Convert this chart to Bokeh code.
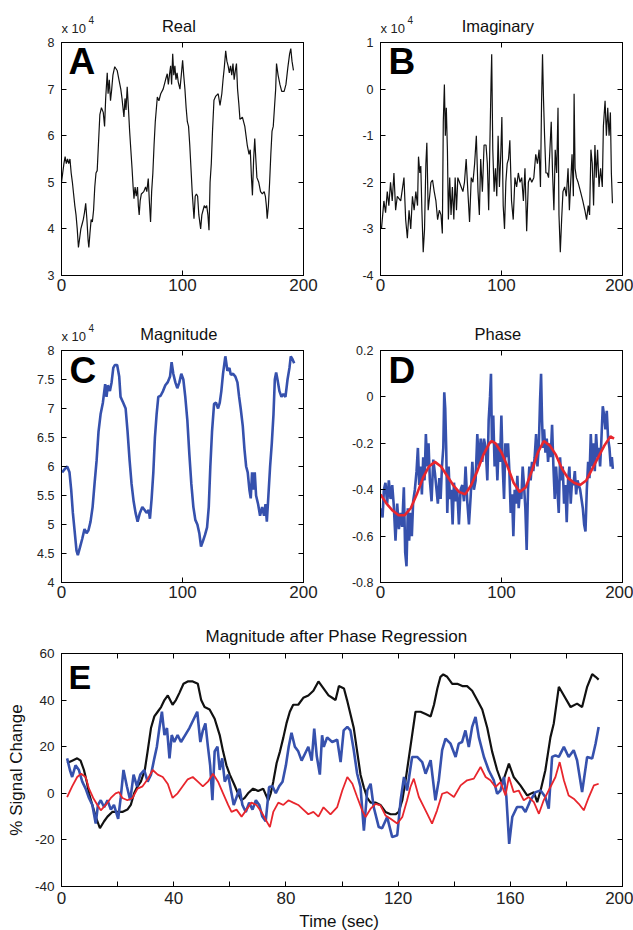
from bokeh.plotting import figure
from bokeh.models import Range1d, FixedTicker, LinearAxis, Label, PrintfTickFormatter
from bokeh.layouts import column, row
from bokeh.embed import file_html
from bokeh.resources import INLINE

FONT = "Liberation Sans"
TICK_COLOR = "#222222"
BLUE = "#3651ad"
RED = "#e8262d"
BLACK = "#111111"

# ---------------- data ----------------
# Panel A: Real part (x 10^4)
real_t = [0, 1, 2, 3, 4, 5, 6, 7, 8, 9, 10, 11, 12, 13, 14, 15, 16, 17, 18, 19, 20, 21, 22, 22.6, 23.5, 24.5,
          25.5, 26.5, 27.5, 28.5, 29.5, 30.5, 31.7, 33, 34.5, 35.6, 36.5, 37.8, 38.5, 39.5, 40.5, 41.5, 42.5,
          44, 46, 47.5, 49, 50, 51.6, 52.5, 53.3, 54.3, 55.3, 56.3, 57.3, 58.3, 59.2, 59.9, 60.8, 61.8, 62.8,
          63.5, 64.2, 65, 66, 68, 69.5, 70.5, 71.7, 72.6, 73.6, 74.5, 75.5, 76.5, 77.5, 79.2, 80.5, 82, 84,
          86, 87.4, 88.3, 89.2, 90.2, 91, 91.9, 92.8, 93.7, 94.6, 95.5, 96.5, 97.9, 99, 100.1, 101, 102, 103,
          104, 105, 106, 107, 108, 109.5, 110.5, 111.5, 112.5, 113.5, 115, 116, 117, 118, 119, 120, 121,
          121.9, 122.8, 123.8, 124.8, 126, 127.5, 129.5, 131, 132.5, 133.5, 134.5, 135.7, 136.7, 137.7,
          138.7, 139.7, 140.7, 141.7, 142.7, 143.7, 144.6, 145.5, 146.5, 147.5, 149.5, 151.5, 152.5, 153.5,
          155, 156, 157, 157.8, 158.8, 159.7, 160.6, 161.5, 163, 164.5, 166, 167.5, 168.5, 169.3, 170, 171,
          172, 173, 174, 175, 176, 177, 177.7, 179, 180.5, 182, 184, 185.5, 187, 188.5, 189.5, 190.5, 191.7]
real_v = [5.0, 5.2, 5.4, 5.55, 5.4, 5.5, 5.4, 5.5, 5.2, 5.0, 4.75, 4.5, 4.3, 4.0, 3.6, 3.8, 4.0, 4.1, 4.2, 4.35,
          4.55, 4.2, 3.75, 3.6, 3.9, 4.2, 4.15, 4.4, 4.9, 5.2, 5.25, 5.8, 6.45, 6.6, 6.5, 6.2, 6.8, 7.35, 6.9,
          7.2, 6.75, 7.0, 7.3, 7.48, 7.4, 7.2, 7.0, 6.8, 6.4, 6.8, 6.55, 7.05, 6.6, 6.1, 5.7, 5.3, 4.9, 4.65,
          4.9, 4.7, 4.9, 4.5, 4.3, 4.6, 4.75, 4.8, 4.9, 4.8, 5.08, 4.6, 4.15, 4.8, 5.2, 5.8, 6.3, 6.83, 6.75,
          6.9, 7.0, 7.2, 7.33, 7.1, 7.3, 7.5, 7.1, 7.76, 7.3, 7.5, 7.2, 7.35, 7.15, 7.0, 7.3, 7.62, 7.3, 7.0,
          6.6, 6.3, 6.2, 5.8, 5.3, 4.8, 4.22, 4.7, 4.75, 4.7, 4.3, 4.0, 4.3, 4.4, 4.5, 4.45, 4.5, 4.3, 3.97,
          5.0, 5.4, 6.1, 6.76, 6.85, 6.9, 6.65, 6.9, 7.2, 7.45, 7.82, 7.6, 7.5, 7.35, 7.5, 7.3, 7.55, 7.2,
          7.4, 7.55, 7.0, 6.7, 6.35, 6.4, 6.2, 6.0, 5.8, 5.6, 5.7, 5.1, 4.72, 5.5, 5.94, 5.5, 5.1, 5.0, 4.8,
          4.75, 4.8, 4.7, 4.5, 4.22, 4.5, 5.0, 5.6, 6.1, 6.2, 6.6, 7.0, 7.55, 7.3, 7.1, 6.95, 6.95, 7.1, 7.45,
          7.75, 7.87, 7.6, 7.4]

# Panel B: Imaginary part (x 10^4)
imag_t = [0.8, 2.8, 4.2, 5.6, 6.9, 8.3, 9.7, 11.1, 12.5, 13.9, 16.7, 19.4, 20.8, 22.2, 23.6, 25, 26.4, 27.8,
          29.2, 30.6, 31.4, 32.5, 33.3, 34.2, 35.3, 36.4, 37.5, 38.3, 39.4, 40.6, 41.7, 43, 44.4, 45.8, 47.2,
          48.6, 50, 51.1, 51.9, 52.8, 53.6, 54.4, 55.3, 56.1, 57.2, 58.3, 59.4, 60.6, 61.7, 62.8, 63.9, 65.3,
          66.7, 68.1, 69.4, 70.8, 72.2, 73.6, 75, 76.4, 77.8, 79.2, 80.6, 81.7, 82.8, 84.2, 85.6, 87.2, 88.3,
          89.4, 90.6, 91.4, 91.9, 92.8, 93.9, 95, 96.1, 97.2, 98.3, 99.4, 100.3, 101.4, 102.5, 103.6, 104.7,
          105.8, 106.9, 108.3, 109.7, 111.1, 112.5, 113.9, 115.3, 116.7, 118.1, 119.4, 120.8, 122.2, 123.6,
          125, 126.7, 128.3, 129.7, 131.1, 132.2, 133.1, 133.9, 134.7, 135.6, 136.7, 137.8, 138.9, 140,
          141.1, 142.2, 143.3, 144.4, 145.6, 146.7, 147.5, 148.6, 149.7, 150.8, 152.2, 153.6, 155, 156.1,
          157.2, 158.3, 159.4, 160, 160.8, 161.9, 163.3, 165.3, 167.2, 168.9, 170.3, 171.7, 172.8, 173.9,
          175, 176.1, 177.2, 178.3, 179.4, 180.6, 181.9, 183.3, 184.2, 185.6, 186.7, 187.8, 188.9, 190,
          190.8, 191.7]
imag_v = [-3.0, -2.4, -2.65, -2.2, -2.5, -2.0, -2.4, -1.8, -2.6, -2.3, -2.4, -1.9, -2.8, -3.2, -2.6, -3.0,
          -2.3, -2.6, -2.2, -2.5, -1.45, -1.8, -1.65, -2.6, -3.5, -3.0, -1.6, -1.15, -2.6, -2.3, -2.0, -1.95,
          -2.2, -2.4, -2.8, -2.6, -2.7, -3.1, -0.7, 0.1, -1.0, -0.4, -1.3, -2.8, -1.9, -2.7, -2.1, -2.8, -1.9,
          -2.6, -1.9, -2.0, -2.1, -2.2, -2.0, -1.5, -2.2, -2.85, -1.9, -2.0, -1.6, -1.0, -2.2, -2.7, -1.5, -2.2,
          -1.2, -1.2, -1.6, -2.6, -0.9, 0.2, 0.75, -1.3, -2.2, -1.7, -2.3, -1.0, -2.1, -1.4, -0.6, -2.5, -3.0,
          -2.0, -1.6, -1.5, -1.1, -2.4, -2.8, -1.9, -2.1, -1.8, -2.0, -1.9, -2.4, -1.7, -3.05, -2.0, -1.9, -2.0,
          -1.9, -1.4, -1.6, -1.3, -2.1, -0.3, 0.75, -0.2, -1.0, -1.8, -1.8, -1.9, -1.3, -0.7, -1.8, -2.6, -1.3,
          -1.8, -0.4, -2.7, -3.5, -2.8, -2.2, -2.1, -2.3, -1.7, -2.6, -2.0, -1.4, -2.3, -0.1, -1.7, -1.9, -2.0,
          -2.2, -2.4, -2.6, -2.8, -2.5, -2.7, -1.3, -1.6, -2.5, -1.2, -1.9, -1.3, -2.1, -1.7, -2.1, -0.8, -0.25,
          -1.0, -0.4, -1.0, -0.5, -1.8, -2.45]

# Panel C: Magnitude (x 10^4)
mag_t = [0.5, 2.5, 4.7, 6.6, 8, 9.4, 10.8, 12.4, 13.5, 15.2, 17.1, 19, 20.7, 22.3, 24, 25.7, 27.3, 29, 30.6,
         32.3, 34.2, 36.1, 37.2, 38.3, 40, 41.4, 42.8, 44.1, 46, 47.7, 48.8, 51, 53, 54.6, 56.3, 57.9, 59.6,
         61.2, 62.9, 64.8, 66.8, 68.7, 70.3, 72, 73.1, 74.5, 75.9, 77.2, 78.6, 80, 81.9, 83.9, 85.8, 87.7,
         89.7, 91, 92.4, 94.1, 95.7, 97.4, 99, 100.7, 102.3, 104, 105.7, 107.3, 109, 110.6, 112.3, 113.9,
         115.3, 117, 118.6, 120.3, 121.7, 123, 124.4, 126.1, 127.7, 129.4, 130.8, 132.1, 133.5, 135.4, 137.1,
         138.8, 139.9, 141.8, 143.7, 145.4, 146.8, 148.1, 149.8, 151.2, 152.6, 153.9, 155.3, 156.4, 157.5,
         158.6, 159.7, 160.8, 162.5, 164.1, 165.8, 167.4, 168.6, 169.7, 171, 172.4, 173.8, 175.2, 176.3,
         177.4, 178.5, 180.1, 181.8, 183.4, 185.1, 186.8, 188.4, 189.5, 190.9, 192.3]
mag_v = [5.9, 5.95, 6.0, 5.9, 5.6, 5.2, 4.9, 4.55, 4.47, 4.6, 4.75, 4.92, 4.85, 4.9, 5.05, 5.3, 5.7, 6.1, 6.6,
         6.9, 7.1, 7.42, 7.2, 7.4, 7.3, 7.45, 7.7, 7.75, 7.75, 7.55, 7.2, 7.1, 7.0, 6.6, 6.1, 5.7, 5.4, 5.2,
         5.05, 5.2, 5.3, 5.25, 5.2, 5.25, 5.1, 5.45, 5.9, 6.5, 6.9, 7.2, 7.22, 7.3, 7.4, 7.45, 7.55, 7.8, 7.6,
         7.45, 7.35, 7.45, 7.6, 7.5, 7.2, 6.8, 6.2, 5.7, 5.3, 5.08, 5.0, 4.85, 4.62, 4.72, 4.82, 4.95, 5.3,
         6.0, 6.6, 7.08, 7.1, 7.0, 7.1, 7.3, 7.6, 7.9, 7.65, 7.7, 7.58, 7.6, 7.55, 7.45, 7.2, 7.0, 6.7, 6.3,
         6.0, 5.9, 5.6, 5.45, 5.9, 5.6, 5.9, 5.5, 5.35, 5.15, 5.3, 5.15, 5.35, 5.05, 5.5, 6.0, 6.4, 6.9, 7.5,
         7.62, 7.5, 7.3, 7.2, 7.25, 7.2, 7.5, 7.7, 7.9, 7.85, 7.78]

# Panel D: Phase (blue) and fitted phase (red)
phase_t = [0.8, 1.7, 2.8, 4.1, 5.5, 6.9, 8.3, 9.7, 11, 12.4, 13.8, 15.2, 16.6, 17.9, 19.3, 20.4, 21.5, 22.6,
           23.7, 24.8, 25.9, 27, 28.4, 29.8, 30.9, 32, 33.1, 34.2, 35.3, 36.4, 37.5, 38.6, 39.7, 40.8, 42.2,
           43.6, 45, 46.3, 47.4, 48.6, 49.7, 50.8, 51.9, 52.7, 53.5, 54.3, 55.2, 56.3, 57.4, 58.5, 59.6, 60.7,
           62.1, 63.4, 64.8, 66.2, 67.6, 69, 70.3, 71.7, 73.1, 74.5, 75.9, 77.2, 78.6, 80, 81.4, 82.8, 84.1,
           85.5, 86.9, 88.3, 89.4, 90.5, 91.3, 92.1, 93.2, 94.3, 95.4, 96.6, 97.7, 98.8, 99.9, 101, 102.1,
           103.2, 104.3, 105.4, 106.5, 107.6, 108.7, 109.8, 110.9, 112, 113.1, 114.2, 115.3, 116.4, 117.5,
           118.6, 119.7, 120.8, 121.9, 123, 124.1, 125.2, 126.3, 127.4, 128.6, 129.7, 130.8, 131.9, 132.7,
           133.5, 134.3, 135.2, 136.3, 137.4, 138.5, 139.6, 140.7, 141.8, 142.9, 144, 145.1, 146.2, 147.3,
           148.4, 149.5, 150.6, 151.7, 152.8, 153.9, 155, 156.1, 157.2, 158.3, 159.4, 160.6, 161.7, 162.8,
           163.9, 165, 166.1, 167.2, 168.3, 169.4, 170.5, 171.6, 172.7, 173.8, 174.9, 176, 177.1, 178.2,
           179.3, 180.4, 181.5, 182.6, 183.7, 184.8, 185.9, 187, 188.1, 189.2, 190.3, 191.2, 192]
phase_v = [-0.48, -0.52, -0.40, -0.37, -0.46, -0.36, -0.44, -0.38, -0.47, -0.62, -0.46, -0.57, -0.50, -0.56,
           -0.39, -0.67, -0.73, -0.48, -0.62, -0.50, -0.60, -0.45, -0.40, -0.32, -0.22, -0.38, -0.30, -0.42,
           -0.26, -0.36, -0.16, -0.30, -0.20, -0.36, -0.45, -0.27, -0.33, -0.40, -0.46, -0.35, -0.44, -0.30,
           -0.22, 0.02, -0.05, -0.22, -0.50, -0.30, -0.44, -0.40, -0.55, -0.37, -0.45, -0.40, -0.55, -0.40,
           -0.38, -0.45, -0.30, -0.45, -0.55, -0.43, -0.28, -0.40, -0.36, -0.16, -0.30, -0.18, -0.28, -0.18,
           -0.22, -0.36, -0.10, 0.00, 0.10, -0.20, -0.08, -0.30, -0.20, -0.36, -0.20, -0.28, -0.08, -0.30,
           -0.44, -0.20, -0.26, -0.20, -0.32, -0.50, -0.42, -0.60, -0.40, -0.46, -0.34, -0.48, -0.40, -0.44,
           -0.30, -0.38, -0.48, -0.66, -0.40, -0.30, -0.36, -0.28, -0.32, -0.26, -0.16, -0.30, -0.22, -0.01,
           0.10, -0.10, -0.22, -0.14, -0.24, -0.18, -0.28, -0.20, -0.26, -0.12, -0.30, -0.44, -0.30, -0.40,
           -0.50, -0.26, -0.36, -0.30, -0.46, -0.38, -0.54, -0.36, -0.30, -0.46, -0.36, -0.38, -0.32, -0.42,
           -0.36, -0.38, -0.40, -0.44, -0.48, -0.55, -0.58, -0.40, -0.28, -0.35, -0.16, -0.30, -0.20, -0.32,
           -0.16, -0.26, -0.22, -0.30, -0.18, -0.04, -0.08, -0.14, -0.06, -0.18, -0.22, -0.30, -0.26, -0.31]
fit_t = [0, 5, 10, 15, 20, 25, 30, 35, 40, 45, 50, 55, 60, 65, 70, 75, 80, 85, 90, 92, 95, 100, 105, 110,
         115, 120, 125, 130, 135, 140, 145, 150, 155, 160, 165, 170, 175, 180, 185, 190, 193]
fit_v = [-0.42, -0.46, -0.49, -0.51, -0.51, -0.48, -0.42, -0.35, -0.30, -0.28, -0.30, -0.34, -0.38, -0.41,
         -0.42, -0.38, -0.32, -0.25, -0.20, -0.19, -0.20, -0.24, -0.30, -0.37, -0.41, -0.39, -0.32, -0.24,
         -0.19, -0.21, -0.25, -0.31, -0.35, -0.37, -0.38, -0.36, -0.31, -0.26, -0.21, -0.17, -0.18]

# Panel E: % signal change
e_black_t = [2, 3.8, 5.6, 6.8, 8, 9, 9.8, 11, 12.2, 13.7, 15.2, 16.4, 18.1, 19.9, 21.7, 23.5, 24.7, 25.9,
             27.1, 28.3, 29.7, 30.7, 31.9, 33.1, 34.3, 35.5, 36.7, 37.9, 39.6, 40.8, 42, 43.5, 45, 46.8, 48.6,
             49.8, 51, 52.8, 54.6, 56.4, 57.6, 58.8, 60, 61.5, 62.9, 64.1, 65.3, 66.5, 68.3, 70.1, 71.9, 73.7,
             74.6, 75.5, 76.7, 77.9, 79.1, 80.2, 81.4, 82.6, 84.4, 86.2, 88, 89.8, 91.6, 93.4, 95.2, 96.5,
             97.7, 98.9, 100.7, 101.8, 103, 104.2, 105.4, 106.6, 107.8, 109, 110.2, 111.9, 113.7, 115.5,
             117.3, 119.1, 120.2, 121.5, 122.6, 123.8, 125, 126.2, 128, 129.8, 131.6, 132.8, 134, 135.1,
             136.1, 137.5, 139.3, 141.1, 142.9, 144.6, 146.4, 148.2, 150, 151.8, 153.5, 155.3, 157.1, 159.5,
             161.2, 163.6, 166, 168.4, 169.6, 170.8, 172.5, 174.3, 175.5, 177.3, 179.1, 181.5, 183.8, 185.6,
             187.4, 189.2, 190.4, 191.5]
e_black_v = [13, 14, 15, 14, 10, 5, 0, -5, -10, -15, -12, -10, -8, -8, -8, -7, -5, 0, 3, 5, 10, 18, 28, 33,
             35, 37, 40, 42, 38, 40, 43, 47, 48, 48, 47, 40, 37, 36, 32, 25, 18, 12, 8, 4, 0, -3, -2, 0, 2, 1,
             2, -3, 0, 5, 13, 18, 24, 30, 35, 38, 38, 41, 42, 44, 48, 45, 42, 41, 40, 46, 45, 40, 34, 28, 18, 8,
             2.5, -2, -4, -4, -5, -8, -9, -9, -8, -3, 5, 15, 25, 35, 35, 34, 33, 38, 45, 50, 51, 50, 47, 47, 46,
             46, 44, 40, 36, 28, 18, 10, 4, 12.7, 7, 3.4, -0.9, 0.5, -3.8, 1.2, 9.9, 24, 30, 45.7, 42, 37, 38.5,
             37, 45.7, 51.1, 50, 48.8]
e_blue_t = [2, 3, 3.8, 5, 6.2, 7.4, 8.6, 9.8, 11, 12.2, 13, 14, 15.2, 16.4, 17.6, 18.7, 20.2, 21.1, 22.1,
            23.3, 24.5, 25.7, 26.9, 28.1, 29.5, 30.7, 31.9, 33.1, 34, 34.9, 35.8, 36.7, 37.6, 38.5, 39.3, 40.2,
            41.4, 42.6, 44.1, 45.6, 47.2, 48.4, 49.5, 50.4, 51.3, 52.2, 53, 53.8, 54.6, 55.6, 56.4, 57.3, 58.2,
            59.4, 60.3, 61.4, 62.3, 63.5, 64.5, 65.7, 66.9, 68.1, 69.3, 70.5, 71.6, 72.8, 74, 75.2, 76.4, 77.6,
            78.8, 80, 81, 82, 83.2, 84.4, 85.6, 86.8, 88, 89.2, 90.1, 91, 92.1, 92.9, 93.5, 94.7, 96.5, 98.3,
            99.5, 100.6, 101.9, 103, 104.2, 105.4, 106.6, 107.8, 109, 110.2, 111.3, 113.1, 114.3, 116.1,
            117.9, 119.7, 120.9, 122.1, 123.2, 125, 126.8, 128.6, 129.8, 131.6, 133.3, 134.5, 135.7, 136.9,
            138.7, 140.5, 141.6, 142.8, 144, 145.2, 146.4, 147.6, 148.8, 150.6, 152.3, 154.1, 155.3, 156.5,
            157.7, 158.6, 159.6, 160.7, 162.4, 164.2, 165.4, 167.2, 169, 170.8, 172.5, 173.7, 174.9, 176.1,
            177.3, 179.1, 180.8, 182.6, 183.8, 185.6, 187.4, 189.2, 190.4, 191.5]
e_blue_v = [15, 10, 7, 12, 10, 5, 2, -2, -5, -13, -5, -3, -6, -3, -7, -5, -11, -2, 10, 3, -3, 8, 3, 8, 10, 5, 8,
            15, 20, 28, 35, 25, 28, 15, 25, 22, 25, 22, 25, 28, 32, 35, 22, 27, 30, 20, 12, -3, 18, 20, 10, 15,
            5, 8, 2, -5, -2, 2, -5, -8, -4, -7, -3, -5, -10, -12, 2.7, 3, 0, 3, 5, 12, 20, 26, 20, 18, 14, 17,
            20, 14, 27.8, 16, 8, 24.9, 19.9, 24, 22, 23, 13.4, 27, 28.5, 27, 18.5, 8.4, 2.7, -16, 1.2, 4.1, -5.9,
            -14.5, -15, -10.2, -18.8, -18, -3, 7, 1.2, 15.6, 15.6, 13.4, 8.4, 14.2, -3, 5.6, 18.5, 23.5, 21.3,
            15.6, 21.3, 22, 27, 19.9, 28.5, 32.8, 24, 15.6, 9.9, 5.6, -0.2, 1.2, 7, -1.6, -21.7, -10.2, -5.9,
            -5.9, -8, -3, 0.5, 1.2, -1.6, -6.6, 15.6, 16.3, 15.6, 19.9, 15.6, 18.5, 14.2, 0.5, 15.6, 14.9, 21.3,
            28.5]
e_red_t = [2, 3.8, 5.6, 7, 8.6, 9.8, 11.3, 12.8, 14, 15.8, 17.6, 19.3, 20.5, 21.7, 23.5, 25.3, 27.1, 28.9,
           30.7, 32.5, 34.3, 36.1, 37.9, 39.6, 41.4, 43.2, 45, 46.8, 48.6, 50.4, 52.2, 54, 55.8, 57.6, 59.4,
           60.6, 62.4, 64.2, 66, 67.7, 69.5, 71.3, 73.1, 74.3, 75.5, 77.3, 79.1, 80.9, 82.6, 84.4, 86.2, 88,
           89.8, 91.6, 93.4, 95.9, 98.3, 100.1, 101.9, 103.7, 105.4, 107.2, 108.4, 110.2, 112, 113.7, 115.5,
           117.3, 119.7, 121.5, 123.2, 124.4, 125.6, 127.4, 129.2, 130.4, 132.1, 133.9, 135.7, 137.5, 139.9,
           142.3, 144.6, 147, 149.4, 151.2, 152.9, 154.7, 156.5, 158.3, 159.5, 161.2, 163, 164.8, 166.6,
           168.4, 170.2, 171.9, 174.3, 176.1, 177.6, 179.1, 180.8, 182.6, 184.4, 186.2, 188, 189.8, 191.5]
e_red_v = [-1.6, 3, 7, 8.4, 7, 2, -2, -5, -7.3, -5, -2, 0, 0.5, -2, -3, -2, 2, 3, 6, 10, 8, 7, 4, -2, 0, 3, 6,
           7, 5, 3, 5, 8.4, 5, 0, -5, -8, -7, -10, -7, -4, -5, -8, -12, -14.5, -8, -4, -5, -3, -4, -5, -7, -9,
           -8, -10, -6, -9, -5.9, 1.2, 7, 4.1, -1.6, -7.3, -10.2, -6.6, -4.5, -5.2, -9.5, -10.9, -13, -10.2,
           -3, 2.7, 6.3, -1.6, -5.9, -8.8, -13, -7.3, -0.2, 0.5, -1.6, 3.4, 5.6, 6.3, 11.3, 7, 5.6, 2.7, 4.8,
           -0.9, 7, 0.5, 1.2, -3, -1.6, -3.8, -8.8, -3, 2.7, 7, 13.4, 5.6, -0.9, -2.3, -4.5, -7.3, -1.6, 3.4,
           4.1]

# Axis ticks / labels
x_ticks_small = [0, 100, 200]
x_labels_small = ["0", "100", "200"]
a_yticks = [3, 4, 5, 6, 7, 8]
a_ylabels = ["3", "4", "5", "6", "7", "8"]
b_yticks = [-4, -3, -2, -1, 0, 1]
b_ylabels = ["-4", "-3", "-2", "-1", "0", "1"]
c_yticks = [4, 4.5, 5, 5.5, 6, 6.5, 7, 7.5, 8]
c_ylabels = ["4", "4.5", "5", "5.5", "6", "6.5", "7", "7.5", "8"]
d_yticks = [-0.8, -0.6, -0.4, -0.2, 0, 0.2]
d_ylabels = ["-0.8", "-0.6", "-0.4", "-0.2", "0", "0.2"]
e_xticks = [0, 20, 40, 60, 80, 100, 120, 140, 160, 180, 200]
e_xlabels = ["0", "", "40", "", "80", "", "120", "", "160", "", "200"]
e_yticks = [-40, -20, 0, 20, 40, 60]
e_ylabels = ["-40", "-20", "0", "20", "40", "60"]


def make_panel(width, height, borders, xr, yr, xticks, xlabels, yticks, ylabels,
               ytick_size="12.5px", xstandoff=3):
    l, r, t, b = borders
    p = figure(width=width, height=height, x_range=xr, y_range=Range1d(*yr),
               output_backend="svg", toolbar_location=None,
               min_border_left=l, min_border_right=r, min_border_top=t, min_border_bottom=b)
    p.grid.visible = False
    p.outline_line_color = "black"
    p.outline_line_width = 1
    p.background_fill_color = "white"
    p.border_fill_color = "white"
    xa = p.below[0]
    ya = p.left[0]
    for ax in (xa, ya):
        ax.major_tick_in = 5
        ax.major_tick_out = 0
        ax.minor_tick_line_color = None
        ax.axis_line_color = "black"
        ax.major_tick_line_color = "black"
        ax.major_label_text_font = FONT
        ax.major_label_text_color = TICK_COLOR
    xa.ticker = FixedTicker(ticks=xticks)
    xa.major_label_overrides = dict(zip(xticks, xlabels))
    xa.major_label_text_font_size = "17px"
    xa.major_label_standoff = xstandoff
    ya.ticker = FixedTicker(ticks=yticks)
    ya.major_label_overrides = dict(zip(yticks, ylabels))
    ya.major_label_text_font_size = ytick_size
    ya.major_label_standoff = 7
    for loc, ticks in (("above", xticks), ("right", yticks)):
        ax = LinearAxis(ticker=FixedTicker(ticks=ticks), formatter=PrintfTickFormatter(format=""),
                        major_label_text_font_size="0px", major_label_standoff=0,
                        major_tick_in=5, major_tick_out=0, minor_tick_line_color=None,
                        axis_line_color="black", major_tick_line_color="black")
        p.add_layout(ax, loc)
    return p


def make_strip(width, height, l, r, xr):
    """Text strip above/below a panel, sharing the panel's x range; y measured in pixels."""
    h = figure(width=width, height=height, x_range=xr, y_range=Range1d(0, height),
               output_backend="svg", toolbar_location=None, x_axis_type=None, y_axis_type=None,
               min_border_left=l, min_border_right=r, min_border_top=0, min_border_bottom=0)
    h.outline_line_color = None
    h.background_fill_color = "white"
    h.border_fill_color = "white"
    return h


def add_text(p, text, x, y, size, align="center", xoff=0, color="#111111", style="normal"):
    p.add_layout(Label(x=x, y=y, x_offset=xoff, text=text, text_font=FONT, text_font_size=size,
                       text_font_style=style, text_align=align, text_baseline="middle",
                       text_color=color))


def add_exponent(h, x0, y):
    add_text(h, "x 10", x0, y, "13px", align="left", color=TICK_COLOR)
    add_text(h, "4", x0, y + 8.5, "10px", align="left", xoff=27, color=TICK_COLOR)


def add_letter(p, text, x0, ytop, xoff, yoff, size="37px"):
    p.add_layout(Label(x=x0, y=ytop, x_offset=xoff, y_offset=yoff, text=text, text_font=FONT,
                       text_font_size=size, text_font_style="bold", text_align="left",
                       text_baseline="middle", text_color="black"))


xA = Range1d(0, 200)
xB = Range1d(0, 200)
xC = Range1d(0, 200)
xD = Range1d(0, 200)
xE = Range1d(0, 200)

# Panel A
hA = make_strip(320, 35, 61, 17, xA)
add_text(hA, "Real", 97, 9.5, "16.5px")
add_exponent(hA, 0, 7)
pA = make_panel(320, 275, (61, 17, 7, 35), xA, (3, 8), x_ticks_small, x_labels_small,
                a_yticks, a_ylabels)
pA.line(real_t, real_v, line_color=BLACK, line_width=1.2)
add_letter(pA, "A", 0, 8, 7, -18.5)

# Panel B
hB = make_strip(313, 35, 60, 11, xB)
add_text(hB, "Imaginary", 97, 9.5, "16.5px")
add_exponent(hB, 0, 7)
pB = make_panel(313, 275, (60, 11, 7, 35), xB, (-4, 1), x_ticks_small, x_labels_small,
                b_yticks, b_ylabels)
pB.line(imag_t, imag_v, line_color=BLACK, line_width=1.2)
add_letter(pB, "B", 0, 1, 8, -18.5)

# Panel C
hC = make_strip(320, 33, 61, 17, xC)
add_text(hC, "Magnitude", 97, 9.5, "16.5px")
add_exponent(hC, 0, 7)
pC = make_panel(320, 267, (61, 17, 7, 28), xC, (4, 8), x_ticks_small, x_labels_small,
                c_yticks, c_ylabels)
pC.line(mag_t, mag_v, line_color=BLUE, line_width=2.6)
add_letter(pC, "C", 0, 8, 8, -20)

# Panel D
hD = make_strip(313, 33, 60, 11, xD)
add_text(hD, "Phase", 97, 9.5, "16.5px")
pD = make_panel(313, 267, (60, 11, 7, 28), xD, (-0.8, 0.2), x_ticks_small, x_labels_small,
                d_yticks, d_ylabels)
pD.line(phase_t, phase_v, line_color=BLUE, line_width=2.6)
pD.line(fit_t, fit_v, line_color=RED, line_width=2.6)
add_letter(pD, "D", 0, 0.2, 8, -20)

# Panel E
hE = make_strip(633, 36, 61, 11, xE)
add_text(hE, "Magnitude after Phase Regression", 98, 10, "17px")
pE = make_panel(633, 266, (61, 11, 7, 26), xE, (-40, 60), e_xticks, e_xlabels,
                e_yticks, e_ylabels, ytick_size="13.5px", xstandoff=5)
ya = pE.left[0]
ya.axis_label = "% Signal Change"
ya.axis_label_text_font = FONT
ya.axis_label_text_font_size = "17px"
ya.axis_label_text_font_style = "normal"
ya.axis_label_text_color = "#111111"
ya.axis_label_standoff = 6
pE.line(e_black_t, e_black_v, line_color=BLACK, line_width=2.2)
pE.line(e_blue_t, e_blue_v, line_color=BLUE, line_width=2.6)
pE.line(e_red_t, e_red_v, line_color=RED, line_width=1.8)
add_letter(pE, "E", 0, 60, 7, -23.5, size="34px")
fE = make_strip(633, 18, 61, 11, xE)
add_text(fE, "Time (sec)", 99, 9.5, "17px")

layout = column(row(column(hA, pA), column(hB, pB)),
                row(column(hC, pC), column(hD, pD)),
                column(hE, pE, fE))
open("out.html", "w").write(file_html(layout, INLINE))
